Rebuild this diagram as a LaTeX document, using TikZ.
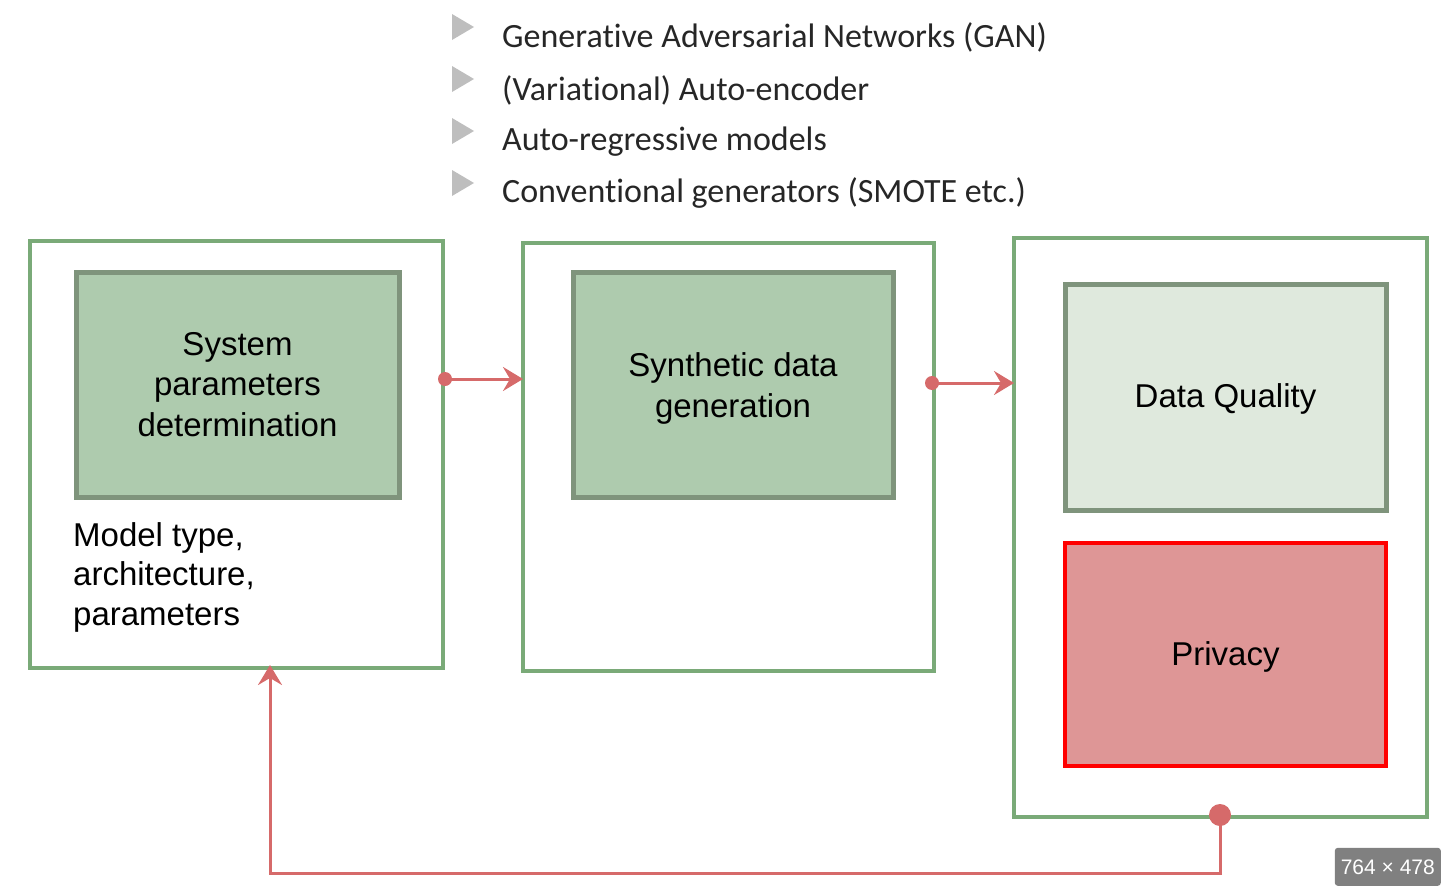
\documentclass[tikz,border=0pt]{standalone}
\usepackage{fontspec}
\setmainfont{Liberation Sans}
\newfontfamily\calibri[Ligatures={NoCommon}]{Carlito}
\usetikzlibrary{arrows.meta,calc}
\definecolor{outergreen}{RGB}{122,170,120}
\definecolor{innerstroke}{RGB}{127,148,124}
\definecolor{innerfill}{RGB}{174,203,174}
\definecolor{dqfill}{RGB}{223,233,221}
\definecolor{privfill}{RGB}{222,150,150}
\definecolor{privstroke}{RGB}{255,0,0}
\definecolor{connred}{RGB}{214,106,106}
\definecolor{bulletgrey}{RGB}{190,190,190}
\definecolor{bullettext}{RGB}{38,38,38}
\definecolor{badgegrey}{RGB}{128,128,128}
\tikzset{
  outerbox/.style={draw=outergreen, line width=4pt, fill=white, inner sep=0pt, outer sep=0pt, anchor=north west},
  innerbox/.style={draw=innerstroke, line width=5pt, fill=innerfill, inner sep=0pt, outer sep=0pt, anchor=north west},
  dqbox/.style={draw=innerstroke, line width=5pt, fill=dqfill, inner sep=0pt, outer sep=0pt, anchor=north west},
  privbox/.style={draw=privstroke, line width=4.5pt, fill=privfill, inner sep=0pt, outer sep=0pt, anchor=north west},
  boxtext/.style={font=\fontsize{33}{40.5}\selectfont, align=center, text=black},
  bullettxt/.style={font=\calibri\fontsize{34}{40}\selectfont, text=bullettext, anchor=west, inner sep=0pt},
  conn/.style={draw=connred, line width=3pt},
  tip/.style={-{Stealth[length=20pt,width=24pt,inset=7pt]}},
}
\begin{document}
\begin{tikzpicture}[x=1pt,y=-1pt]
\useasboundingbox (0,0) rectangle (1446,886);
% bullets
\foreach \yy in {27,79,131,183}{
  \fill[bulletgrey] (452,\yy-13) -- (474,\yy) -- (452,\yy+13) -- cycle;
}
\node[bullettxt] (t1) at (502,37) {Generative Adversarial Networks (GAN)};
\node[bullettxt] (t2) at (502,90) {(Variational) Auto-encoder};
\node[bullettxt] (t3) at (502,142) {Auto-regressive models};
\node[bullettxt] (t4) at (502,193) {Conventional generators (SMOTE etc.)};
% outer boxes
\node[outerbox, minimum width=413pt, minimum height=427pt] (o1) at (30,241) {};
\node[outerbox, minimum width=411pt, minimum height=428pt] (o2) at (523,243) {};
\node[outerbox, minimum width=413pt, minimum height=579pt] (o3) at (1014,238) {};
% inner boxes
\node[innerbox, minimum width=323pt, minimum height=225pt] (i1) at (76,272) {};
\node[boxtext] (i1t) at (i1.center) {System\\parameters\\determination};
\node[innerbox, minimum width=320pt, minimum height=225pt] (i2) at (573,272) {};
\node[boxtext, yshift=-4pt] (i2t) at (i2.center) {Synthetic data\\generation};
\node[dqbox, minimum width=321pt, minimum height=226pt] (dq) at (1065,284) {};
\node[boxtext, yshift=-2pt] (dqt) at (dq.center) {Data Quality};
\node[privbox, minimum width=321pt, minimum height=223pt] (pv) at (1065,543) {};
\node[boxtext, yshift=-2pt] (pvt) at (pv.center) {Privacy};
% model type text
\node[font=\fontsize{33}{39.5}\selectfont, align=left, anchor=north west, inner sep=0pt] (mt) at (73,522) {Model type,\\architecture,\\parameters};
% connectors
\coordinate (s1) at (445,379);
\coordinate (s2) at (932,383);
\draw[conn, tip] (s1) -- (s1 -| o2.west);
\fill[connred] (s1) circle (7pt);
\draw[conn, tip] (s2) -- (s2 -| o3.west);
\fill[connred] (s2) circle (7pt);
\coordinate (fb) at (1220,815);
\coordinate (low) at (0,873);
\coordinate (fbend) at (270,665);
\draw[conn, tip] (fb) -- (fb |- low) -| (fbend);
\fill[connred] (fb) circle (11pt);
% badge
\node[fill=badgegrey, text=white, anchor=south east, minimum width=106pt, minimum height=38pt, inner sep=0pt, rounded corners=3pt, font=\fontsize{21}{24}\selectfont] (badge) at (1441,886) {764 × 478};
\end{tikzpicture}
\end{document}
